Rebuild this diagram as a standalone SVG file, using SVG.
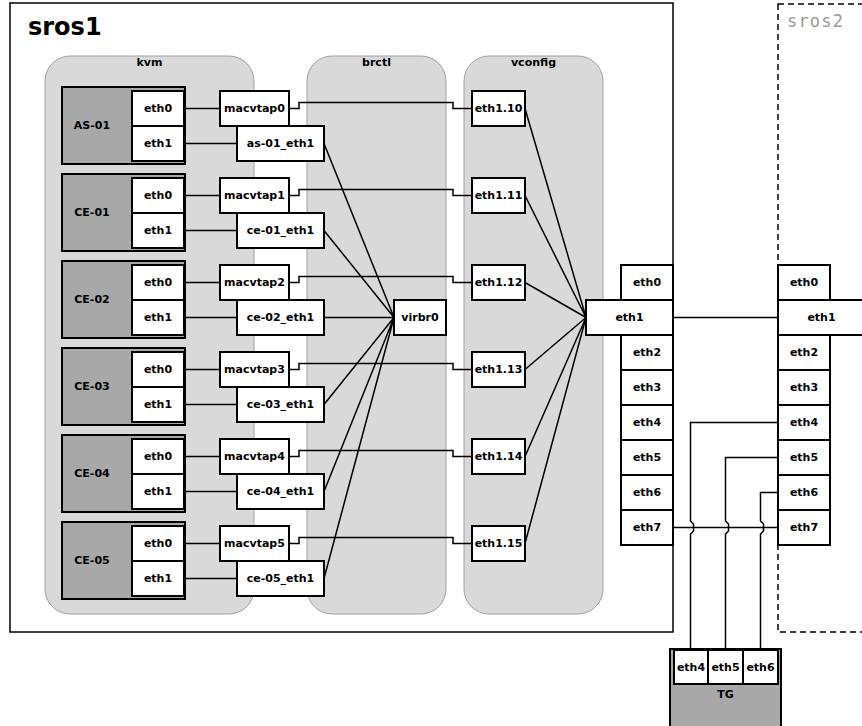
<svg xmlns="http://www.w3.org/2000/svg" width="862" height="726" viewBox="0 0 862 726">
<style>
text{font-family:"DejaVu Sans",Verdana,sans-serif;font-weight:bold;font-size:11px;text-anchor:middle;dominant-baseline:central;fill:#000}
.box{fill:#fff;stroke:#000;stroke-width:2}
.vm{fill:#a8a8a8;stroke:#000;stroke-width:2}
.panel{fill:#d9d9d9;stroke:#a0a0a0;stroke-width:1}
.ln{fill:none;stroke:#000;stroke-width:1.5}
</style>
<rect width="862" height="726" fill="#fff"/>
<g id="sros1">
<rect x="10" y="3" width="663" height="629" fill="#fff" stroke="#000" stroke-width="1.5"/>
<text x="28" y="35" style="font-size:24px;text-anchor:start;dominant-baseline:auto">sros1</text>
</g>
<g id="sros2">
<rect x="778" y="4" width="110" height="628" fill="#fff" stroke="#000" stroke-width="1.5" stroke-dasharray="6 4"/>
<text x="787" y="27" style="font-family:'DejaVu Sans Mono',monospace;font-weight:normal;font-size:17px;letter-spacing:1.2px;text-anchor:start;dominant-baseline:auto;fill:#999">sros2</text>
</g>
<g id="kvm"><rect class="panel" x="45" y="56" width="209" height="558" rx="25"/><text x="149.5" y="62">kvm</text></g>
<g id="brctl"><rect class="panel" x="307" y="56" width="139" height="558" rx="25"/><text x="376.5" y="62">brctl</text></g>
<g id="vconfig"><rect class="panel" x="464" y="56" width="139" height="558" rx="25"/><text x="533.5" y="62">vconfig</text></g>

<g id="connectors" class="ln">
<path d="M184,108.5H220M184,143.5H237"/>
<path d="M184,195.5H220M184,230.5H237"/>
<path d="M184,282.5H220M184,317.5H237"/>
<path d="M184,369.5H220M184,404.5H237"/>
<path d="M184,456.5H220M184,491.5H237"/>
<path d="M184,543.5H220M184,578.5H237"/>
<path d="M289,108.5H299V102.5H453V108.5H472"/>
<path d="M289,195.5H299V189.5H453V195.5H472"/>
<path d="M289,282.5H299V276.5H453V282.5H472"/>
<path d="M289,369.5H299V363.5H453V369.5H472"/>
<path d="M289,456.5H299V450.5H453V456.5H472"/>
<path d="M289,543.5H299V537.5H453V543.5H472"/>
<path d="M324,143.5L394,317.5M324,230.5L394,317.5M324,317.5L394,317.5M324,404.5L394,317.5M324,491.5L394,317.5M324,578.5L394,317.5"/>
<path d="M525,108.5L586,317.5M525,195.5L586,317.5M525,282.5L586,317.5M525,369.5L586,317.5M525,456.5L586,317.5M525,543.5L586,317.5"/>
<path d="M673,317.5H778"/>
<path d="M673,527.5H778"/>
<path d="M778,422.5H690.5V521L693.5,524V531L690.5,534V650"/>
<path d="M778,457.5H725.5V521L728.5,524V531L725.5,534V650"/>
<path d="M778,492.5H760.5V521L763.5,524V531L760.5,534V650"/>
</g>

<g id="AS-01"><rect class="vm" x="62" y="87" width="123" height="77"/><text x="92" y="125.5">AS-01</text>
<rect class="box" x="132" y="91" width="52" height="35"/><text x="158" y="108.5">eth0</text>
<rect class="box" x="132" y="126" width="52" height="35"/><text x="158" y="143.5">eth1</text></g>
<g id="CE-01"><rect class="vm" x="62" y="174" width="123" height="77"/><text x="92" y="212.5">CE-01</text>
<rect class="box" x="132" y="178" width="52" height="35"/><text x="158" y="195.5">eth0</text>
<rect class="box" x="132" y="213" width="52" height="35"/><text x="158" y="230.5">eth1</text></g>
<g id="CE-02"><rect class="vm" x="62" y="261" width="123" height="77"/><text x="92" y="299.5">CE-02</text>
<rect class="box" x="132" y="265" width="52" height="35"/><text x="158" y="282.5">eth0</text>
<rect class="box" x="132" y="300" width="52" height="35"/><text x="158" y="317.5">eth1</text></g>
<g id="CE-03"><rect class="vm" x="62" y="348" width="123" height="77"/><text x="92" y="386.5">CE-03</text>
<rect class="box" x="132" y="352" width="52" height="35"/><text x="158" y="369.5">eth0</text>
<rect class="box" x="132" y="387" width="52" height="35"/><text x="158" y="404.5">eth1</text></g>
<g id="CE-04"><rect class="vm" x="62" y="435" width="123" height="77"/><text x="92" y="473.5">CE-04</text>
<rect class="box" x="132" y="439" width="52" height="35"/><text x="158" y="456.5">eth0</text>
<rect class="box" x="132" y="474" width="52" height="35"/><text x="158" y="491.5">eth1</text></g>
<g id="CE-05"><rect class="vm" x="62" y="522" width="123" height="77"/><text x="92" y="560.5">CE-05</text>
<rect class="box" x="132" y="526" width="52" height="35"/><text x="158" y="543.5">eth0</text>
<rect class="box" x="132" y="561" width="52" height="35"/><text x="158" y="578.5">eth1</text></g>

<g id="macvtap0"><rect class="box" x="220" y="91" width="69" height="35"/><text x="254.5" y="108.5">macvtap0</text></g>
<g id="as-01_eth1"><rect class="box" x="237" y="126" width="87" height="35"/><text x="280.5" y="143.5">as-01_eth1</text></g>
<g id="macvtap1"><rect class="box" x="220" y="178" width="69" height="35"/><text x="254.5" y="195.5">macvtap1</text></g>
<g id="ce-01_eth1"><rect class="box" x="237" y="213" width="87" height="35"/><text x="280.5" y="230.5">ce-01_eth1</text></g>
<g id="macvtap2"><rect class="box" x="220" y="265" width="69" height="35"/><text x="254.5" y="282.5">macvtap2</text></g>
<g id="ce-02_eth1"><rect class="box" x="237" y="300" width="87" height="35"/><text x="280.5" y="317.5">ce-02_eth1</text></g>
<g id="macvtap3"><rect class="box" x="220" y="352" width="69" height="35"/><text x="254.5" y="369.5">macvtap3</text></g>
<g id="ce-03_eth1"><rect class="box" x="237" y="387" width="87" height="35"/><text x="280.5" y="404.5">ce-03_eth1</text></g>
<g id="macvtap4"><rect class="box" x="220" y="439" width="69" height="35"/><text x="254.5" y="456.5">macvtap4</text></g>
<g id="ce-04_eth1"><rect class="box" x="237" y="474" width="87" height="35"/><text x="280.5" y="491.5">ce-04_eth1</text></g>
<g id="macvtap5"><rect class="box" x="220" y="526" width="69" height="35"/><text x="254.5" y="543.5">macvtap5</text></g>
<g id="ce-05_eth1"><rect class="box" x="237" y="561" width="87" height="35"/><text x="280.5" y="578.5">ce-05_eth1</text></g>

<g id="virbr0"><rect class="box" x="394" y="300" width="52" height="35"/><text x="420" y="317.5">virbr0</text></g>

<g id="eth1.10"><rect class="box" x="472" y="91" width="53" height="35"/><text x="498.5" y="108.5">eth1.10</text></g>
<g id="eth1.11"><rect class="box" x="472" y="178" width="53" height="35"/><text x="498.5" y="195.5">eth1.11</text></g>
<g id="eth1.12"><rect class="box" x="472" y="265" width="53" height="35"/><text x="498.5" y="282.5">eth1.12</text></g>
<g id="eth1.13"><rect class="box" x="472" y="352" width="53" height="35"/><text x="498.5" y="369.5">eth1.13</text></g>
<g id="eth1.14"><rect class="box" x="472" y="439" width="53" height="35"/><text x="498.5" y="456.5">eth1.14</text></g>
<g id="eth1.15"><rect class="box" x="472" y="526" width="53" height="35"/><text x="498.5" y="543.5">eth1.15</text></g>

<g id="sros1-ports">
<rect class="box" x="621" y="265" width="52" height="35"/><text x="647" y="282.5">eth0</text>
<rect class="box" x="621" y="335" width="52" height="35"/><text x="647" y="352.5">eth2</text>
<rect class="box" x="621" y="370" width="52" height="35"/><text x="647" y="387.5">eth3</text>
<rect class="box" x="621" y="405" width="52" height="35"/><text x="647" y="422.5">eth4</text>
<rect class="box" x="621" y="440" width="52" height="35"/><text x="647" y="457.5">eth5</text>
<rect class="box" x="621" y="475" width="52" height="35"/><text x="647" y="492.5">eth6</text>
<rect class="box" x="621" y="510" width="52" height="35"/><text x="647" y="527.5">eth7</text>
<rect class="box" x="586" y="300" width="87" height="35"/><text x="629.5" y="317.5">eth1</text>
</g>
<g id="sros2-ports">
<rect class="box" x="778" y="265" width="52" height="35"/><text x="804" y="282.5">eth0</text>
<rect class="box" x="778" y="300" width="90" height="35"/><text x="821.5" y="317.5">eth1</text>
<rect class="box" x="778" y="335" width="52" height="35"/><text x="804" y="352.5">eth2</text>
<rect class="box" x="778" y="370" width="52" height="35"/><text x="804" y="387.5">eth3</text>
<rect class="box" x="778" y="405" width="52" height="35"/><text x="804" y="422.5">eth4</text>
<rect class="box" x="778" y="440" width="52" height="35"/><text x="804" y="457.5">eth5</text>
<rect class="box" x="778" y="475" width="52" height="35"/><text x="804" y="492.5">eth6</text>
<rect class="box" x="778" y="510" width="52" height="35"/><text x="804" y="527.5">eth7</text>
</g>
<g id="TG">
<rect class="vm" x="670" y="649" width="111" height="82"/>
<rect class="box" x="674" y="650" width="34" height="34"/><text x="691" y="667">eth4</text>
<rect class="box" x="708" y="650" width="35" height="34"/><text x="725.5" y="667">eth5</text>
<rect class="box" x="743" y="650" width="35" height="34"/><text x="760.5" y="667">eth6</text>
<text x="725.5" y="694">TG</text>
</g>
</svg>
